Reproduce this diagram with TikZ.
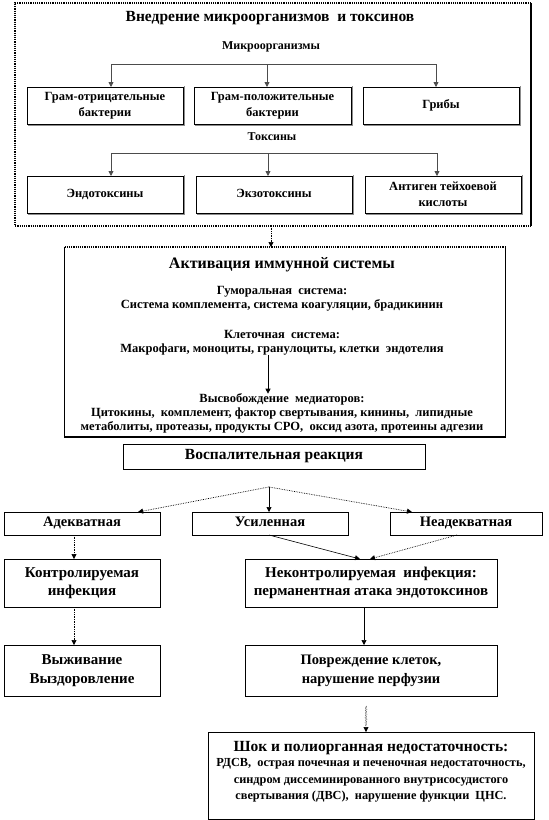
\documentclass[tikz,border=0pt]{standalone}
\usepackage{fontspec}
\setmainfont{Liberation Serif}
\usetikzlibrary{arrows.meta,decorations.pathmorphing}
\newcommand{\myfs}[2]{\fontsize{#1}{#2}\selectfont}
\begin{document}
\begin{tikzpicture}[x=1pt,y=-1pt,
  every node/.style={inner sep=0pt, outer sep=0pt, align=center, font=\bfseries},
  box/.style={draw=black, line width=0.9pt, rectangle},
  rbox/.style={draw=black, line width=0.7pt, rectangle, font=\bfseries\myfs{12.5}{16}},
  one/.style={text height=0.72em, text depth=0.22em},
  tip/.style={-{Triangle[length=5pt,width=5pt]}},
  conn/.style={tip, draw=black!70, line width=0.8pt},
  dconn/.style={tip, densely dotted, line width=0.7pt},
  sconn/.style={tip, line width=0.7pt},
  shad/.style={draw=black!45, line width=0.8pt},
]
\useasboundingbox (0,0) rectangle (549,820);
% ---------- outer box ----------
\node[minimum width=516pt, minimum height=223pt] (outer) at (273,114.5) {};
\draw[densely dotted, line width=1.2pt] (outer.north east) -- (outer.north west) -- (outer.south west) -- (outer.south east);
\draw[line width=1.2pt] (outer.south east) -- (outer.north east);

\node[font=\bfseries\myfs{15.5}{18}] (t1) at (270,18) {Внедрение микроорганизмов\ \ и токсинов};
\node[font=\bfseries\myfs{12}{14}] (mik) at (271,47) {Микроорганизмы};

\node[rbox, minimum width=156pt, minimum height=37pt] (b11) at (105,105.5) {Грам-отрицательные\\бактерии};
\node[rbox, minimum width=157pt, minimum height=37pt] (b12) at (272.5,105.5) {Грам-положительные\\бактерии};
\node[rbox, one, minimum width=156pt, minimum height=37pt] (b13) at (441,105.5) {Грибы};

\coordinate (hL) at (111,64);
\coordinate (hM) at (267,64);
\coordinate (hR) at (436,64);
\draw[draw=black!70, line width=0.8pt] (hL) -- (hR);
\draw[conn] (hL) -- (hL |- b11.north);
\draw[conn] (hM) -- (hM |- b12.north);
\draw[conn] (hR) -- (hR |- b13.north);

\node[font=\bfseries\myfs{12}{14}] (tox) at (272,137) {Токсины};

\node[rbox, one, minimum width=156pt, minimum height=37pt] (b21) at (105,194.5) {Эндотоксины};
\node[rbox, one, minimum width=156pt, minimum height=37pt] (b22) at (274,194.5) {Экзотоксины};
\node[rbox, minimum width=156pt, minimum height=37pt] (b23) at (443,194.5) {Антиген тейхоевой\\кислоты};

\coordinate (gL) at (111,153);
\coordinate (gM) at (268,153);
\coordinate (gR) at (437,153);
\draw[draw=black!70, line width=0.8pt] (gL) -- (gR);
\draw[conn] (gL) -- (gL |- b21.north);
\draw[conn] (gM) -- (gM |- b22.north);
\draw[conn] (gR) -- (gR |- b23.north);

\foreach \n in {b11,b12,b13,b21,b22,b23}{
  \draw[shad] ([shift={(1pt,1pt)}]\n.north east) -- ([shift={(1pt,-1pt)}]\n.south east) -- ([shift={(1pt,-1pt)}]\n.south west);
}

% ---------- immune activation ----------
\node[minimum width=441pt, minimum height=190pt] (act) at (285,342) {};
\draw[densely dotted, line width=1.2pt] (act.north west) -- (act.north east);
\draw[line width=1.2pt] (act.north east) -- (act.south east) -- (act.south west) -- (act.north west);
\draw[dconn] ([xshift=-2pt]outer.south) -- ([xshift=-2pt]outer.south |- act.north);

\node[font=\bfseries\myfs{16}{18}] (at) at (282,265) {Активация иммунной системы};
\node[font=\bfseries\myfs{12.5}{14}] (gum) at (282,299) {Гуморальная\ \ система:\\Система комплемента, система коагуляции, брадикинин};
\node[font=\bfseries\myfs{12.5}{14}] (kl) at (282,342.5) {Клеточная\ \ система:\\Макрофаги, моноциты, гранулоциты, клетки\ \ эндотелия};
\node[font=\bfseries\myfs{12.5}{14}] (vys) at (282,413.5) {Высвобождение\ \ медиаторов:\\Цитокины,\ \ комплемент, фактор свертывания, кинины,\ \ липидные\\метаболиты, протеазы, продукты СРО,\ \ оксид азота, протеины адгезии};
\draw[sconn] ([xshift=-14pt]kl.south) -- ([xshift=-14pt]kl.south |- vys.north);

% ---------- inflammatory reaction ----------
\node[box, one, minimum width=302pt, minimum height=25pt, font=\bfseries\myfs{15.5}{17}] (vos) at (274,456.5) {Воспалительная реакция};

\coordinate (J) at (269,487);
\node[box, one, minimum width=156pt, minimum height=23pt, font=\bfseries\myfs{14.5}{16}] (ad) at (82,523.5) {Адекватная};
\node[box, one, minimum width=156pt, minimum height=23pt, font=\bfseries\myfs{14.5}{16}] (us) at (270,523.5) {Усиленная};
\node[box, one, minimum width=152pt, minimum height=23pt, font=\bfseries\myfs{14.5}{16}] (nead) at (466,523.5) {Неадекватная};

\draw[dconn] (J) -- ([xshift=56pt]ad.north);
\draw[sconn] (J) -- (J |- us.north);
\draw[dconn] (J) -- ([xshift=-54pt]nead.north);

\node[box, minimum width=156pt, minimum height=48pt, font=\bfseries\myfs{15}{18}] (kon) at (82,583) {Контролируемая\\инфекция};
\node[box, minimum width=252pt, minimum height=48pt, font=\bfseries\myfs{15}{18}] (nekon) at (371,583) {Неконтролируемая\ \ инфекция:\\перманентная атака эндотоксинов};

\draw[dconn] ([xshift=-8pt]ad.south) -- ([xshift=-8pt]ad.south |- kon.north);
\draw[sconn, line width=0.6pt] ([xshift=-1pt]us.south) -- ([xshift=-11pt]nekon.north);
\draw[dconn] ([xshift=-9pt]nead.south) -- ([xshift=-1pt]nekon.north);

\node[box, minimum width=156pt, minimum height=51pt, font=\bfseries\myfs{15}{19}] (vyzh) at (82,670.5) {Выживание\\Выздоровление};
\node[box, minimum width=252pt, minimum height=51pt, font=\bfseries\myfs{14.5}{19}] (povr) at (371,670.5) {Повреждение клеток,\\нарушение перфузии};

\draw[dconn] ([xshift=-8pt]kon.south) -- ([xshift=-8pt]kon.south |- vyzh.north);
\draw[sconn] ([xshift=-7pt]nekon.south) -- ([xshift=-7pt]nekon.south |- povr.north);

% ---------- shock ----------
\node[box, minimum width=326pt, minimum height=87pt] (shock) at (371,775.5) {};
\node[font=\bfseries\myfs{15.5}{17}] (sh1) at (371,748) {Шок и полиорганная недостаточность:};
\node[font=\bfseries\myfs{12.3}{16.5}] (sh2) at (371,780.5) {РДСВ,\ \ острая почечная и печеночная недостаточность,\\синдром диссеминированного внутрисосудистого\\свертывания (ДВС),\ \ нарушение функции\ \ ЦНС.};

\coordinate (wv) at (366,706);
\draw[tip, densely dotted, line width=0.6pt, decorate, decoration={zigzag, amplitude=0.8pt, segment length=2.5pt, post length=6pt}] (wv) -- (wv |- shock.north);
\end{tikzpicture}
\end{document}
